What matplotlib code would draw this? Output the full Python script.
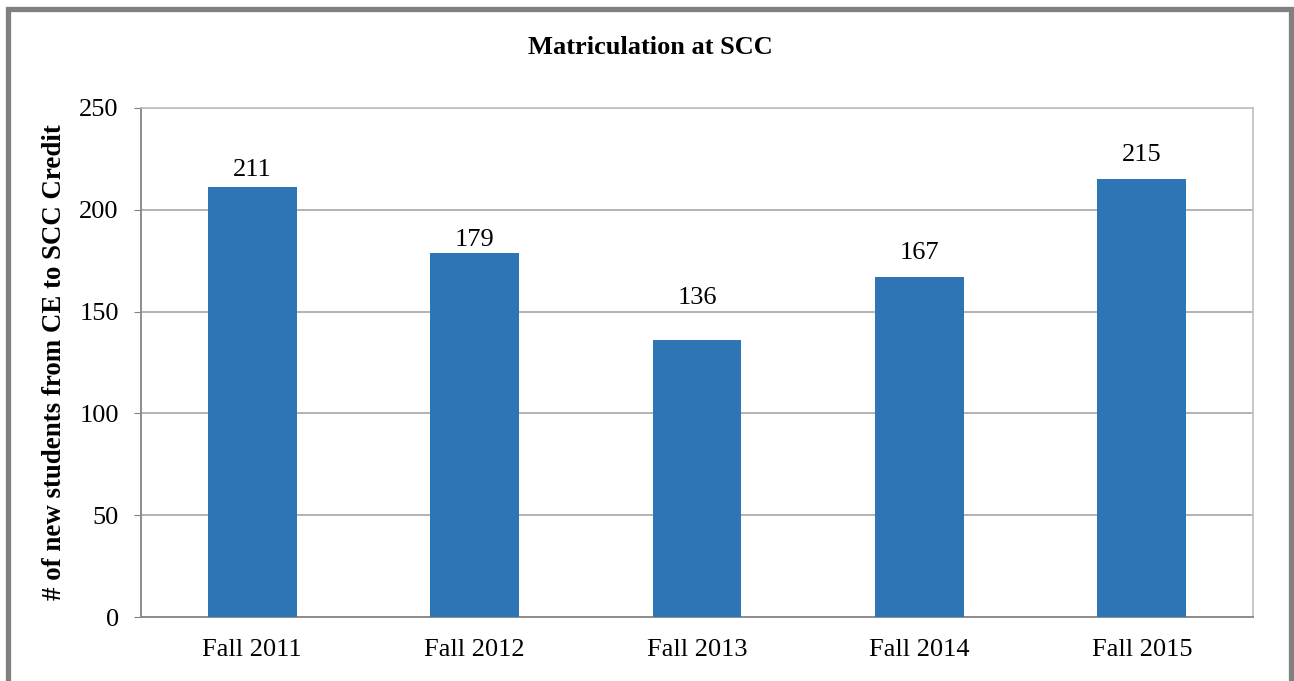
#!/usr/bin/env python3
import matplotlib
matplotlib.use("Agg")
import matplotlib.pyplot as plt
from matplotlib.patches import Rectangle

terms = ["Fall 2011", "Fall 2012", "Fall 2013", "Fall 2014", "Fall 2015"]
students = [211, 179, 136, 167, 215]
y_ticks = [0, 50, 100, 150, 200, 250]

# gap (points) between bar top and its value label, as placed in the original
label_gap = [4.7, 1.0, 22.7, 9.7, 9.7]

plt.rcParams["font.family"] = ["Liberation Serif", "DejaVu Serif"]

fig = plt.figure(figsize=(12.94, 6.81), dpi=100)
ax = fig.add_axes([141 / 1294, 1 - 617 / 681, 1112 / 1294, 509 / 681])

# outer frame of the chart box (bottom edge runs off the page)
fig.patches.append(Rectangle((8 / 1294, -0.05), 1283 / 1294, 1.05 - 9.5 / 681,
                             transform=fig.transFigure, fill=False,
                             edgecolor="#808080", linewidth=3.8))

x = list(range(len(terms)))
bars = ax.bar(x, students, width=0.4, color="#2E75B6", zorder=3)
for b, v, gap in zip(bars, students, label_gap):
    ax.annotate(str(v), (b.get_x() + b.get_width() / 2, v),
                xytext=(0, gap), textcoords="offset points",
                ha="center", va="bottom", fontsize=19)

ax.set_xlim(-0.5, len(terms) - 0.5)
ax.set_ylim(0, 250)
ax.set_yticks(y_ticks)
ax.set_xticks(x)
ax.set_xticklabels(terms)
ax.tick_params(axis="y", length=5, color="#808080", labelsize=19, pad=11)
ax.tick_params(axis="x", length=0, labelsize=19, pad=16)
ax.grid(axis="y", color="#A6A6A6", linewidth=1.2, zorder=0)

for side in ["top", "right"]:
    ax.spines[side].set_color("#BFBFBF")
    ax.spines[side].set_linewidth(1.2)
for side in ["left", "bottom"]:
    ax.spines[side].set_color("#8C8C8C")
    ax.spines[side].set_linewidth(1.4)

ax.set_ylabel("# of new students from CE to SCC Credit", fontsize=19.4,
              fontweight="bold", labelpad=8.5)
fig.text(650 / 1294, 1 - 48 / 681, "Matriculation at SCC", ha="center",
         va="center", fontsize=19, fontweight="bold")

plt.savefig("out.png", dpi=100)
